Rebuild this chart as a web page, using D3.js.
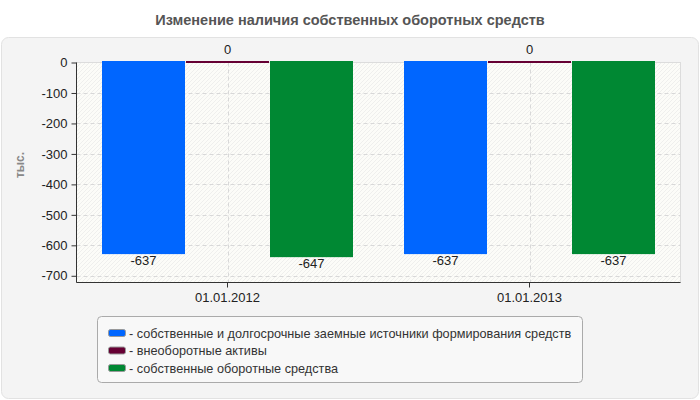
<!DOCTYPE html>
<html><head><meta charset="utf-8">
<script src="https://cdn.jsdelivr.net/npm/d3@7"></script>
<style>body{margin:0;background:#fff;}svg{display:block;font-family:Arial,"Liberation Sans",sans-serif;}</style>
</head><body>
<svg id="c" width="700" height="400"></svg>
<script>
const title = "Изменение наличия собственных оборотных средств";
const yLabel = "тыс.";
const categories = ["01.01.2012", "01.01.2013"];
const seriesNames = [
  "собственные и долгосрочные заемные источники формирования средств",
  "внеоборотные активы",
  "собственные оборотные средства"
];
const seriesColors = ["#0066ff", "#660033", "#008833"];
const sourcesValues = [-637, -637];
const nonCurrentValues = [0, 0];
const ownWorkingValues = [-647, -637];
const yTicks = [0, -100, -200, -300, -400, -500, -600, -700];

const seriesValues = [sourcesValues, nonCurrentValues, ownWorkingValues];
const fmt = d => String(d);
const FF = "Arial,'Liberation Sans',sans-serif";
const svg = d3.select("#c");

// panel
svg.append("rect").attr("x",1.5).attr("y",37.5).attr("width",697).attr("height",361)
  .attr("rx",7).attr("fill","#f4f4f4").attr("stroke","#e2e2e2");

svg.append("text").attr("x",350).attr("y",25).attr("text-anchor","middle")
  .attr("font-size",14.5).attr("font-weight","bold").attr("fill","#555").text(title);

const L=76.5, R=680.5, T=62.5, B=282.5;
const x = d3.scaleBand().domain(categories).range([L,R]);
const y = d3.scaleLinear().domain([0,-722]).range([T,B]);
const xs = d3.scaleBand().domain(d3.range(seriesNames.length)).range([0, 251]).paddingInner(0.012);

const defs = svg.append("defs");
const pat = defs.append("pattern").attr("id","hatch").attr("patternUnits","userSpaceOnUse")
  .attr("width",4).attr("height",4);
pat.append("rect").attr("width",4).attr("height",4).attr("fill","#fcfcf8");
pat.append("path").attr("d","M-1,1 l2,-2 M0,4 l4,-4 M3,5 l2,-2").attr("stroke","#ececea").attr("stroke-width",0.8);

svg.append("rect").attr("x",L).attr("y",T).attr("width",R-L).attr("height",B-T)
  .attr("fill","url(#hatch)").attr("stroke","#dcdcdc");

// gridlines
const g = svg.append("g");
g.selectAll("line.h").data(yTicks.filter(d=>d!==0)).join("line")
  .attr("x1",L).attr("x2",R).attr("y1",d=>Math.round(y(d))+0.5).attr("y2",d=>Math.round(y(d))+0.5)
  .attr("stroke","#d8d8d8").attr("stroke-dasharray","4,3");
g.selectAll("line.v").data(categories).join("line")
  .attr("x1",d=>Math.round(x(d)+x.bandwidth()/2)+0.5).attr("x2",d=>Math.round(x(d)+x.bandwidth()/2)+0.5)
  .attr("y1",T).attr("y2",B).attr("stroke","#d8d8d8").attr("stroke-dasharray","4,3");

// bars
const flat = [];
categories.forEach((c,ci)=>seriesValues.forEach((s,si)=>flat.push({c,si,v:s[ci]})));
const off = (x.bandwidth()-251)/2;
svg.selectAll("rect.bar").data(flat).join("rect").attr("class","bar")
  .attr("x",d=>x(d.c)+off+xs(d.si))
  .attr("width",xs.bandwidth())
  .attr("y",d=>y(0)-1.5)
  .attr("height",d=>Math.max(2, y(d.v)-y(0)-1))
  .attr("fill",d=>seriesColors[d.si]);

svg.selectAll("text.val").data(flat).join("text").attr("class","val")
  .attr("x",d=>x(d.c)+off+xs(d.si)+xs.bandwidth()/2)
  .attr("y",d=>d.v===0 ? y(0)-9 : y(d.v)+8)
  .attr("text-anchor","middle").attr("font-size",13).attr("fill","#222")
  .text(d=>fmt(d.v));

// axes
const ya = svg.append("g").attr("transform",`translate(${L},0)`)
  .call(d3.axisLeft(y).tickValues(yTicks).tickSize(5).tickPadding(4).tickFormat(fmt));
ya.select(".domain").attr("stroke","#333").attr("d",`M0,${T}V${B}`);
ya.selectAll(".tick line").attr("stroke","#333");
ya.selectAll("text").attr("font-size",13).attr("fill","#222").attr("font-family",FF);

const xa = svg.append("g").attr("transform",`translate(0,${B})`)
  .call(d3.axisBottom(x).tickSize(5).tickPadding(5));
xa.select(".domain").attr("stroke","#333").attr("d",`M${L},0H${R}`);
xa.selectAll(".tick line").attr("stroke","#333");
xa.selectAll("text").attr("font-size",13).attr("fill","#222").attr("font-family",FF);

svg.append("text").attr("transform","translate(24,165) rotate(-90)").attr("text-anchor","middle")
  .attr("font-size",12).attr("font-weight","bold").attr("fill","#888").text(yLabel);

// legend
svg.append("rect").attr("x",97.5).attr("y",316.5).attr("width",485).attr("height",66)
  .attr("rx",4).attr("fill","#f8f8f8").attr("stroke","#aaa");
const lg = svg.selectAll("g.lg").data(seriesNames).join("g")
  .attr("transform",(d,i)=>`translate(108,${333+i*17.5})`);
lg.append("rect").attr("x",0.5).attr("y",-3.5).attr("width",17).attr("height",7).attr("rx",2)
  .attr("fill",(d,i)=>seriesColors[i]).attr("stroke","#999");
lg.append("text").attr("x",21).attr("y",4.5).attr("font-size",12.7).attr("fill","#333")
  .text(d=>"- "+d);
</script>
</body></html>
